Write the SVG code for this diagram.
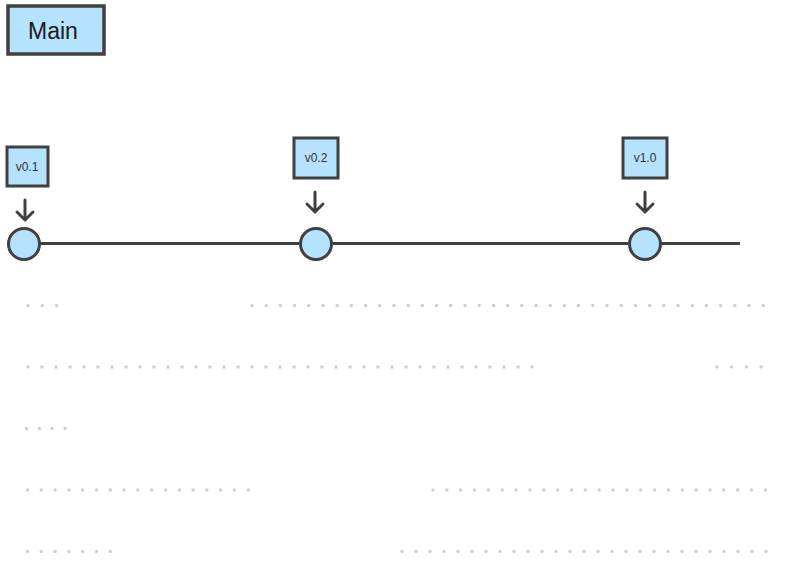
<svg xmlns="http://www.w3.org/2000/svg" width="800" height="574" viewBox="0 0 800 574">
<style>
.box{fill:#b5e2ff;stroke:#404040;stroke-width:3.5}
.tag{fill:#b5e2ff;stroke:#404040;stroke-width:3}
.commit{fill:#b5e2ff;stroke:#404040;stroke-width:3}
.line{stroke:#404040;stroke-width:3;fill:none}
.arr{stroke:#404040;stroke-width:3;fill:none;stroke-linecap:round;stroke-linejoin:round}
.t{font-family:"Liberation Sans",Arial,sans-serif;fill:#1a1a1a;text-anchor:middle}
.tt{font-family:"Liberation Sans",Arial,sans-serif;fill:#333;text-anchor:middle;font-size:12px}
.dots{stroke:#cfcfcf;stroke-width:3.5;stroke-linecap:round;fill:none}
</style>
<g id="main-label">
<rect class="box" x="8" y="6" width="96" height="48"/>
<text class="t" x="53" y="38.5" font-size="23">Main</text>
</g>
<g id="connectors">
<line class="line" x1="40" y1="243.5" x2="299" y2="243.5"/>
<line class="line" x1="332" y1="243.5" x2="614" y2="243.5"/>
<line class="line" x1="614" y1="243.5" x2="628" y2="243.5" stroke-width="2.6"/>
<line class="line" x1="662" y1="243.5" x2="740" y2="243.5" stroke-width="2.4"/>
<path class="arr" d="M25,200 V220 M17,212 L25,220 L33,212"/>
<path class="arr" d="M315,192 V212 M307,204 L315,212 L323,204"/>
<path class="arr" d="M645,192 V212 M637,204 L645,212 L653,204"/>
</g>
<g id="tag-v01">
<rect class="tag" x="7" y="147" width="41" height="39"/>
<text class="tt" x="27" y="171">v0.1</text>
</g>
<g id="tag-v02">
<rect class="tag" x="294" y="138" width="44" height="40"/>
<text class="tt" x="316" y="162">v0.2</text>
</g>
<g id="tag-v10">
<rect class="tag" x="623" y="138" width="44" height="40"/>
<text class="tt" x="645" y="162">v1.0</text>
</g>
<g id="commit-1"><circle class="commit" cx="24" cy="244" r="15.5"/></g>
<g id="commit-2"><circle class="commit" cx="316" cy="244" r="15.5"/></g>
<g id="commit-3"><circle class="commit" cx="645" cy="244" r="15.5"/></g>
<g id="placeholder-dots">
<path class="dots" stroke-dasharray="0 14.3" d="M28,305.5 H59"/>
<path class="dots" stroke-dasharray="0 14.2" d="M252,305.5 H766"/>
<path class="dots" stroke-dasharray="0 14.0" d="M28,367 H534"/>
<path class="dots" stroke-dasharray="0 14.7" d="M717,367 H763"/>
<path class="dots" stroke-dasharray="0 12.8" d="M26.5,428.5 H67"/>
<path class="dots" stroke-dasharray="0 13.8" d="M27.5,490 H250"/>
<path class="dots" stroke-dasharray="0 13.85" d="M433,490 H768"/>
<path class="dots" stroke-dasharray="0 13.8" d="M27.5,551.5 H112"/>
<path class="dots" stroke-dasharray="0 14.0" d="M402,551.5 H768"/>
</g>
</svg>
